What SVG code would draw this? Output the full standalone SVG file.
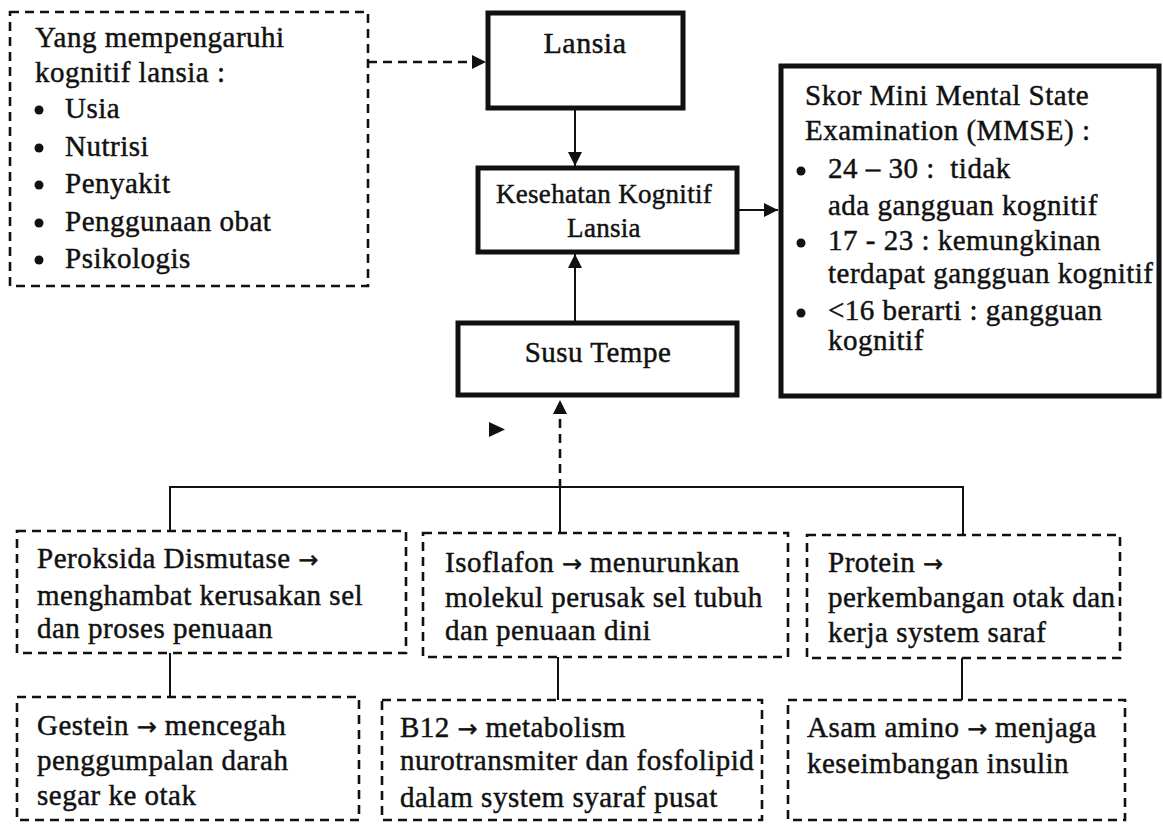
<svg xmlns="http://www.w3.org/2000/svg" width="1163" height="825" viewBox="0 0 1163 825">
<defs>
<style>
.t{font-family:"Liberation Serif","Times New Roman",serif;font-size:29px;letter-spacing:0.5px;fill:#111;stroke:#111;stroke-width:0.45}
.ts{font-size:27px;letter-spacing:0.3px}
.ar{font-family:"DejaVu Sans",sans-serif;font-size:24px;letter-spacing:0}
.thick{fill:#fff;stroke:#111;stroke-width:5}
.dash{fill:#fff;stroke:#111;stroke-width:2.6;stroke-dasharray:9 6}
.ln{fill:none;stroke:#111;stroke-width:2}
.dln{fill:none;stroke:#111;stroke-width:2.6;stroke-dasharray:9 6}
</style>
<marker id="ah" viewBox="0 0 10 10" refX="10" refY="5" markerWidth="14" markerHeight="14" markerUnits="userSpaceOnUse" orient="auto">
<path d="M0,0 L10,5 L0,10 z" fill="#111"/>
</marker>
</defs>
<rect width="1163" height="825" fill="#fff"/>

<g id="connectors">
<path class="dln" d="M368,62 H486" marker-end="url(#ah)"/>
<path class="ln" d="M575,108 V166" marker-end="url(#ah)"/>
<path class="ln" d="M575,322 V254" marker-end="url(#ah)"/>
<path class="ln" d="M738,210 H778" marker-end="url(#ah)"/>
<path class="dln" d="M560,488 V400" marker-end="url(#ah)"/>
<path class="ln" d="M170,531 V487 H963 V534"/>
<path class="ln" d="M560,487 V533"/>
<path class="ln" d="M170,653 V697"/>
<path class="ln" d="M558,657 V700"/>
<path class="ln" d="M962,658 V700"/>
<path d="M489,422 L505,429.5 L489,437 z" fill="#111"/>
</g>

<g id="node-faktor">
<rect class="dash" x="10" y="12" width="358" height="274"/>
<text class="t" x="35" y="47">Yang mempengaruhi</text>
<text class="t" x="35" y="82">kognitif lansia :</text>
<circle cx="39" cy="110" r="4.5" fill="#111"/>
<circle cx="39" cy="148" r="4.5" fill="#111"/>
<circle cx="39" cy="185" r="4.5" fill="#111"/>
<circle cx="39" cy="223" r="4.5" fill="#111"/>
<circle cx="39" cy="260" r="4.5" fill="#111"/>
<text class="t" x="65" y="118">Usia</text>
<text class="t" x="65" y="156">Nutrisi</text>
<text class="t" x="65" y="193">Penyakit</text>
<text class="t" x="65" y="231">Penggunaan obat</text>
<text class="t" x="65" y="268">Psikologis</text>
</g>

<g id="node-lansia">
<rect class="thick" x="488" y="13" width="195" height="95"/>
<text class="t" x="585" y="53" text-anchor="middle" style="font-size:30px">Lansia</text>
</g>

<g id="node-kesehatan">
<rect class="thick" x="478" y="168" width="259" height="84"/>
<text class="t ts" x="604" y="203" text-anchor="middle">Kesehatan Kognitif</text>
<text class="t ts" x="604" y="237" text-anchor="middle">Lansia</text>
</g>

<g id="node-susu">
<rect class="thick" x="458" y="323" width="279" height="72"/>
<text class="t" x="598" y="362" text-anchor="middle">Susu Tempe</text>
</g>

<g id="node-mmse">
<rect class="thick" x="781" y="66" width="378" height="330"/>
<text class="t" x="805" y="105">Skor Mini Mental State</text>
<text class="t" x="805" y="140">Examination (MMSE) :</text>
<circle cx="801" cy="171" r="4.5" fill="#111"/>
<circle cx="801" cy="243" r="4.5" fill="#111"/>
<circle cx="801" cy="313" r="4.5" fill="#111"/>
<text class="t" x="828" y="178">24 – 30 :&#160; tidak</text>
<text class="t" x="828" y="215">ada gangguan kognitif</text>
<text class="t" x="828" y="250">17 - 23 : kemungkinan</text>
<text class="t" x="828" y="283">terdapat gangguan kognitif</text>
<text class="t" x="828" y="320">&lt;16 berarti : gangguan</text>
<text class="t" x="828" y="350">kognitif</text>
</g>

<g id="node-peroksida">
<rect class="dash" x="17" y="531" width="389" height="122"/>
<text class="t" x="37" y="568">Peroksida Dismutase <tspan class="ar">→</tspan></text>
<text class="t" x="37" y="605">menghambat kerusakan sel</text>
<text class="t" x="37" y="638">dan proses penuaan</text>
</g>

<g id="node-isoflafon">
<rect class="dash" x="423" y="533" width="365" height="124"/>
<text class="t" x="445" y="572">Isoflafon <tspan class="ar">→</tspan> menurunkan</text>
<text class="t" x="445" y="607">molekul perusak sel tubuh</text>
<text class="t" x="445" y="640">dan penuaan dini</text>
</g>

<g id="node-protein">
<rect class="dash" x="807" y="535" width="313" height="123"/>
<text class="t" x="828" y="572">Protein <tspan class="ar">→</tspan></text>
<text class="t" x="828" y="607">perkembangan otak dan</text>
<text class="t" x="828" y="642">kerja system saraf</text>
</g>

<g id="node-gestein">
<rect class="dash" x="17" y="697" width="342" height="123"/>
<text class="t" x="37" y="735">Gestein <tspan class="ar">→</tspan> mencegah</text>
<text class="t" x="37" y="770">penggumpalan darah</text>
<text class="t" x="37" y="805">segar ke otak</text>
</g>

<g id="node-b12">
<rect class="dash" x="382" y="700" width="380" height="120"/>
<text class="t" x="400" y="737">B12 <tspan class="ar">→</tspan> metabolism</text>
<text class="t" x="400" y="770">nurotransmiter dan fosfolipid</text>
<text class="t" x="400" y="807">dalam system syaraf pusat</text>
</g>

<g id="node-asam">
<rect class="dash" x="788" y="700" width="337" height="120"/>
<text class="t" x="807" y="737">Asam amino <tspan class="ar">→</tspan> menjaga</text>
<text class="t" x="807" y="773">keseimbangan insulin</text>
</g>
</svg>
